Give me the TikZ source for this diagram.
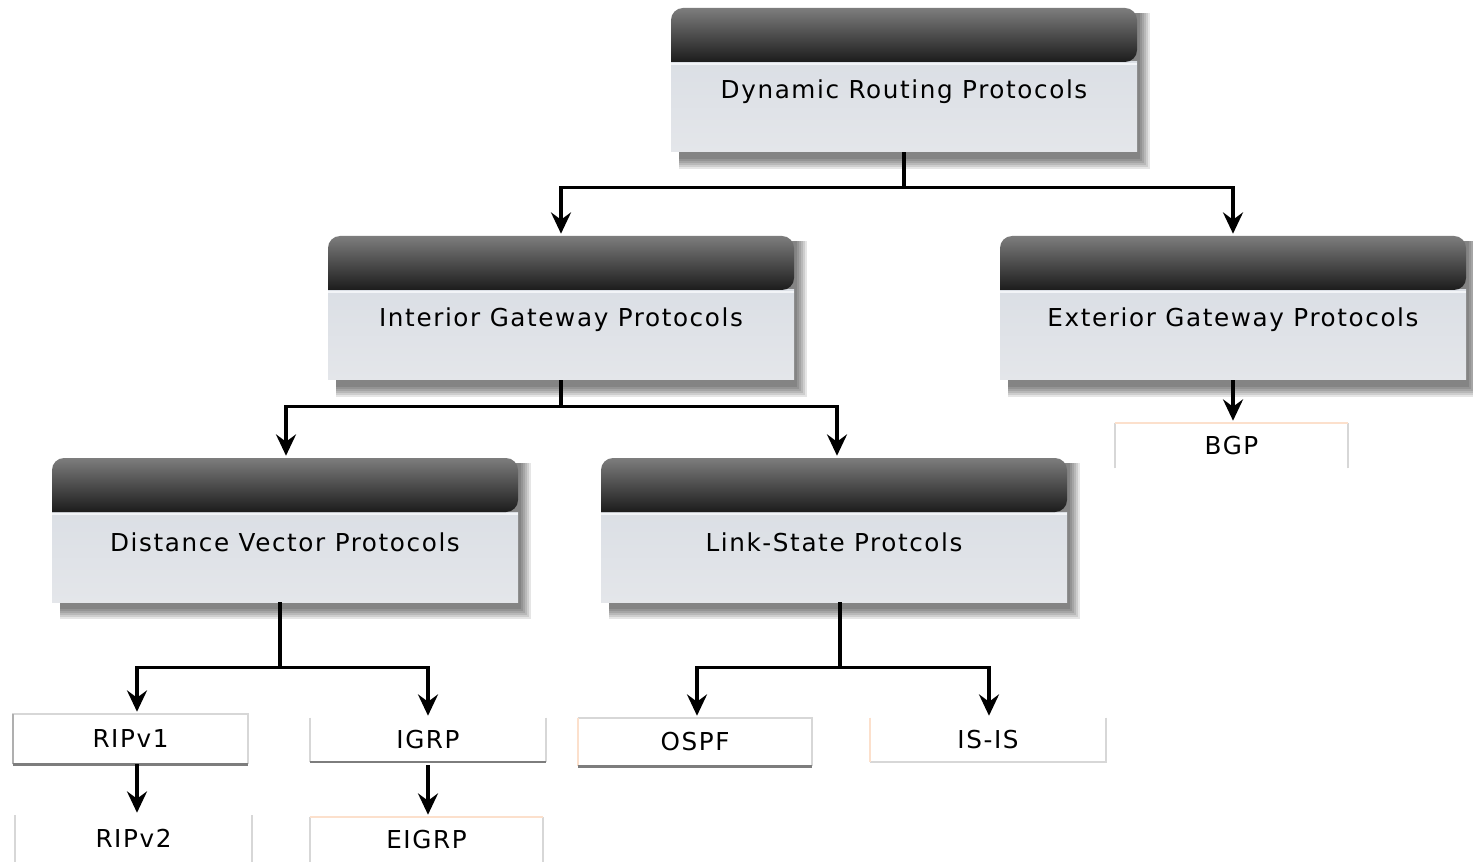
\documentclass[tikz,border=0pt]{standalone}
\usepackage{fontspec}
\setmainfont{DejaVu Sans}
\usetikzlibrary{arrows.meta,calc}
\definecolor{hdrtop}{RGB}{125,125,125}
\definecolor{hdrmid}{RGB}{72,72,72}
\definecolor{hdrbot}{RGB}{28,28,28}
\definecolor{bodytop}{RGB}{219,223,229}
\definecolor{bodybot}{RGB}{228,230,234}
\definecolor{lightline}{RGB}{242,244,247}
\definecolor{peach}{RGB}{252,224,204}
\definecolor{leafgray}{RGB}{215,215,215}
\definecolor{leafmid}{RGB}{175,175,175}
\definecolor{leafdark}{RGB}{125,125,125}
\newcommand\bigbx[4]{%
  \pgfmathsetmacro\xa{#2}\pgfmathsetmacro\ya{#3}%
  \pgfmathsetmacro\xb{#2+466}\pgfmathsetmacro\yb{#3+144}%
  \pgfmathsetmacro\yh{#3+54}\pgfmathsetmacro\ty{#3+84}%
  \foreach \k in {0,...,5}{\fill[black,opacity=0.1] (\xa+8,\ya+5) rectangle (\xb+13-2*\k,\yb+17-2*\k);}
  \shade[top color=bodytop,bottom color=bodybot] (\xa,\yh) rectangle (\xb,\yb);
  \draw[lightline,line width=1.5pt] (\xa,\yh+2) -- (\xb,\yh+2);
  \shade[top color=hdrtop,middle color=hdrmid,bottom color=hdrbot] (\xa,\yh) [rounded corners=9pt] -- (\xa,\ya) -- (\xb,\ya) -- (\xb,\yh) [sharp corners] -- cycle;
  \node[bigbox] (#1) at ({(\xa+\xb)/2},{(\ya+\yb)/2}) {};
  \node[txt] (#1-t) at ({(\xa+\xb)/2},\ty) {#4};
}
\begin{document}
\begin{tikzpicture}[x=0.75pt,y=-0.75pt,
  bigbox/.style={rectangle,inner sep=0pt,minimum width=349.5pt,minimum height=108pt},
  txt/.style={inner sep=0pt,text=black,font=\fontsize{18.5}{20}\selectfont\addfontfeature{LetterSpace=6.5}},
  leaf/.style={rectangle,inner sep=0pt,fill=white,text=black,font=\fontsize{18.5}{20}\selectfont\addfontfeature{LetterSpace=6.5}},
  edg/.style={draw=leafgray,line width=1.5pt},
  conn/.style={line width=2.6pt,-{Stealth[length=16pt,width=15pt,inset=5.5pt]},shorten >=1.5pt}]
\useasboundingbox (0,0) rectangle (1473,862);
\fill[white] (0,0) rectangle (1473,862);

\bigbx{drp}{671}{8}{Dynamic Routing Protocols}
\bigbx{igp}{328}{236}{Interior Gateway Protocols}
\bigbx{egp}{1000}{236}{Exterior Gateway Protocols}
\bigbx{dv}{52}{458}{Distance Vector Protocols}
\bigbx{ls}{601}{458}{Link-State Protcols}

% leaves
\node[leaf,minimum width=176.25pt,minimum height=37.5pt] (rip1) at (130.5,739) {RIPv1};
\draw[edg] (rip1.south west) -- (rip1.north west) -- (rip1.north east) -- (rip1.south east);
\draw[leafmid,line width=1.5pt] (rip1.south west) -- (rip1.north west);
\draw[leafdark,line width=2.2pt] (rip1.south west) -- (rip1.south east);

\node[leaf,minimum width=177pt,minimum height=33pt] (igrp) at (428,740) {IGRP};
\draw[edg] (igrp.north west) -- (igrp.south west);
\draw[edg] (igrp.north east) -- (igrp.south east);
\draw[leafdark,line width=1.5pt] (igrp.south west) -- (igrp.south east);

\node[leaf,minimum width=175.5pt,minimum height=36pt] (ospf) at (695,742) {OSPF};
\draw[edg] (ospf.north west) -- (ospf.north east) -- (ospf.south east);
\draw[peach,line width=1.5pt] (ospf.north west) -- (ospf.south west);
\draw[leafdark,line width=2.4pt] (ospf.south west) -- (ospf.south east);

\node[leaf,minimum width=177pt,minimum height=33pt] (isis) at (988,740) {IS-IS};
\draw[edg] (isis.north east) -- (isis.south east) -- (isis.south west);
\draw[peach,line width=1.5pt] (isis.north west) -- (isis.south west);

\node[leaf,minimum width=174.75pt,minimum height=33.75pt] (bgp) at (1231.5,445.5) {BGP};
\draw[edg] (bgp.south west) -- (bgp.north west);
\draw[edg] (bgp.south east) -- (bgp.north east);
\draw[peach,line width=1.5pt] (bgp.north west) -- (bgp.north east);

\node[leaf,minimum width=177.75pt,minimum height=35.25pt] (rip2) at (133.5,838.5) {RIPv2};
\draw[edg] (rip2.south west) -- (rip2.north west);
\draw[edg] (rip2.south east) -- (rip2.north east);

\node[leaf,minimum width=174.75pt,minimum height=33.75pt] (eigrp) at (426.5,839.5) {EIGRP};
\draw[edg] (eigrp.south west) -- (eigrp.north west);
\draw[edg] (eigrp.south east) -- (eigrp.north east);
\draw[peach,line width=1.5pt] (eigrp.north west) -- (eigrp.north east);

% connectors
\draw[conn] (drp.south) -- ++(0,35) -| (igp.north);
\draw[conn] (drp.south) -- ++(0,35) -| (egp.north);
\draw[conn] (igp.south) -- ++(0,26) -| ($(dv.north)+(1,0)$);
\draw[conn] (igp.south) -- ++(0,26) -| ($(ls.north)+(3,0)$);
\draw[conn] (egp.south) -- (egp.south |- bgp.north);
\draw[conn] ($(dv.south)+(-5,0)$) -- ++(0,65) -| ($(rip1.north)+(6.5,0)$);
\draw[conn] ($(dv.south)+(-5,0)$) -- ++(0,65) -| (igrp.north);
\draw[conn] ($(ls.south)+(6,0)$) -- ++(0,65) -| ($(ospf.north)+(2,0)$);
\draw[conn] ($(ls.south)+(6,0)$) -- ++(0,65) -| ($(isis.north)+(1,0)$);
\draw[conn] ($(rip1.south)+(6.5,0)$) -- ($(rip2.north)+(3.5,0)$);
\draw[conn] ($(igrp.south)+(0,3)$) -- ($(eigrp.north)+(1.5,0)$);
\end{tikzpicture}
\end{document}
